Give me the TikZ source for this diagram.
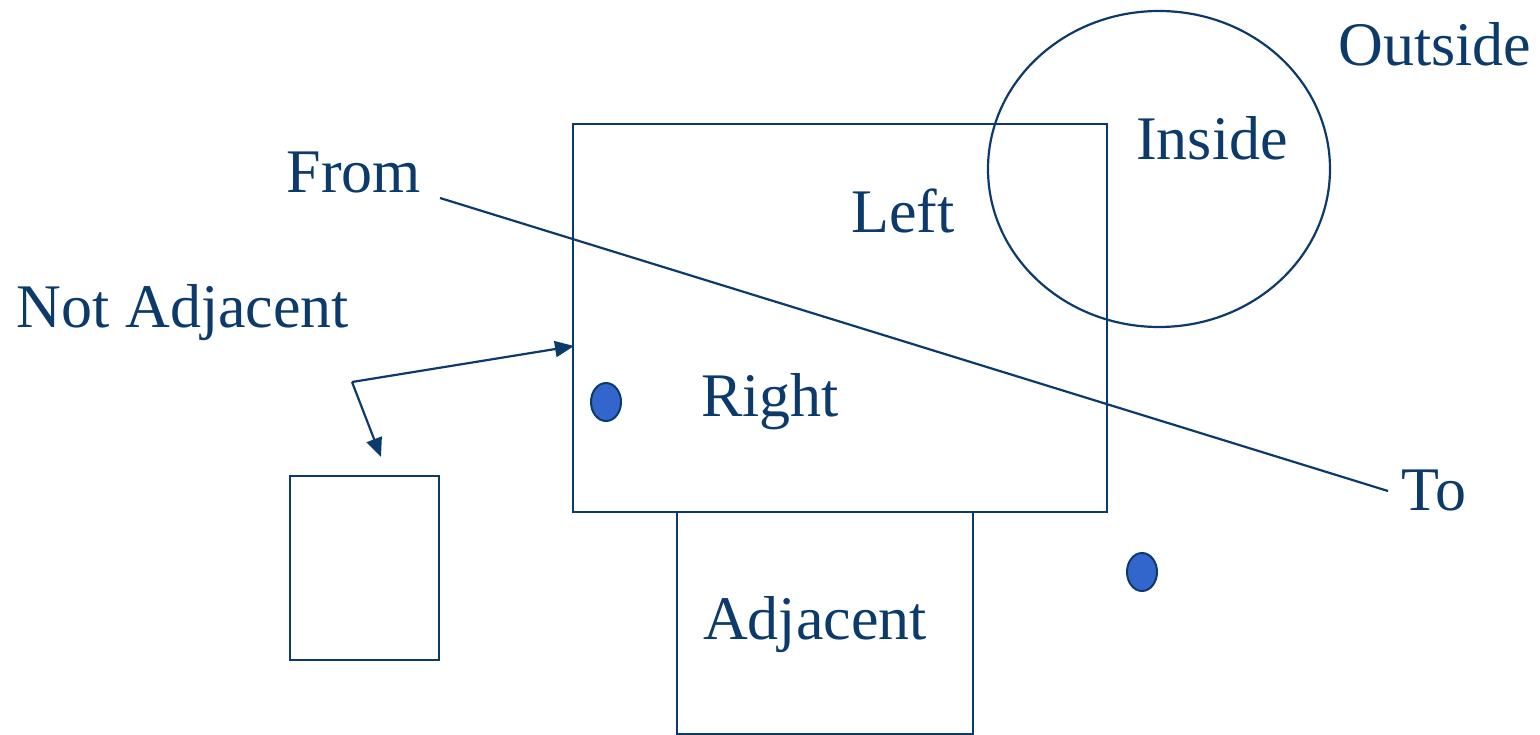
\documentclass[tikz,border=0pt]{standalone}
\usepackage{fontspec}
\setmainfont{Liberation Serif}
\usetikzlibrary{shapes.geometric,arrows.meta}
\definecolor{navy}{HTML}{0B3A6B}
\definecolor{dotblue}{HTML}{3366CC}
\begin{document}
\begin{tikzpicture}[x=1pt,y=-1pt,
  shp/.style={draw=navy,line width=2.2pt,inner sep=0pt},
  lbl/.style={text=navy,font=\fontsize{62}{62}\selectfont,anchor=base,inner sep=0pt},
  dot/.style={draw=navy,fill=dotblue,line width=2pt,ellipse,minimum width=30pt,minimum height=38pt,inner sep=0pt},
  conn/.style={draw=navy,line width=2.2pt},
  tip/.style={-{Triangle[length=19pt,width=16pt]}}]
\useasboundingbox (0,0) rectangle (1540,735);
\node[shp,minimum width=534pt,minimum height=388pt] (big) at (840,318) {};
\node[shp,minimum width=296pt,minimum height=222pt] (adj) at (825,623) {};
\node[shp,minimum width=149pt,minimum height=184pt] (small) at (364.5,568) {};
\node[shp,ellipse,minimum width=342pt,minimum height=316pt] (circ) at (1159,169) {};
\node[dot] (d1) at (606,402) {};
\node[dot] (d2) at (1142,572) {};
\node[lbl] (outside) at (1435,66) {Outside};
\node[lbl] (inside) at (1212,160) {Inside};
\node[lbl] (from) at (354,193) {From};
\node[lbl] (left) at (903,233) {Left};
\node[lbl] (notadj) at (183,328) {Not Adjacent};
\node[lbl] (right) at (770,417) {Right};
\node[lbl] (to) at (1434,510) {To};
\node[lbl] (adjtxt) at (815,639) {Adjacent};
\coordinate (fromEnd) at (440,198);
\coordinate (toEnd) at (1388,491);
\draw[conn] (fromEnd) -- (toEnd);
\coordinate (bend) at (352,382);
\coordinate (tipA) at (381,457);
\coordinate (tipB) at (574,346);
\draw[conn,tip] (bend) -- (tipB);
\draw[conn,tip] (bend) -- (tipA);
\end{tikzpicture}
\end{document}
